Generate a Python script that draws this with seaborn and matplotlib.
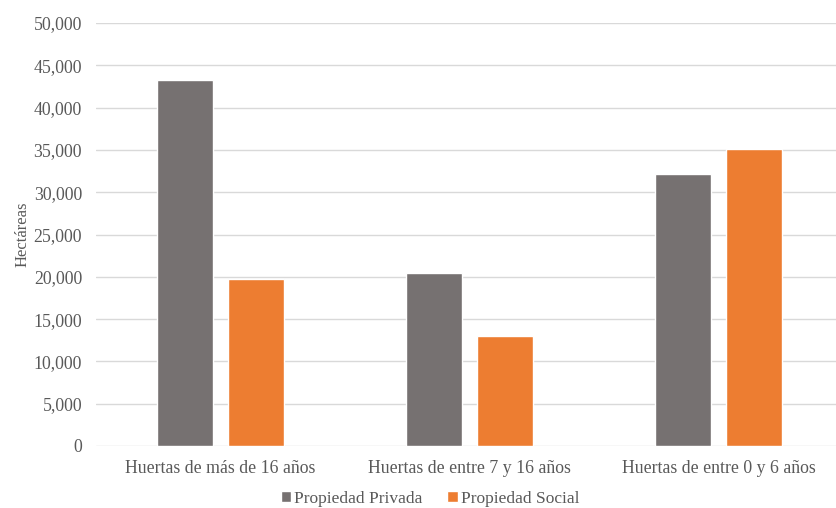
import matplotlib
matplotlib.use("Agg")
import matplotlib.pyplot as plt
from matplotlib.ticker import FuncFormatter, MultipleLocator
import seaborn as sns
import pandas as pd

categorias = ["Huertas de más de 16 años", "Huertas de entre 7 y 16 años", "Huertas de entre 0 y 6 años"]
propiedad_privada = [43300, 20400, 32200]
propiedad_social = [19700, 13000, 35100]
series = ["Propiedad Privada", "Propiedad Social"]
colores = ["#767171", "#ED7D31"]

df = pd.DataFrame({
    "categoria": categorias * 2,
    "hectareas": propiedad_privada + propiedad_social,
    "tipo": [series[0]] * len(categorias) + [series[1]] * len(categorias),
})

sns.set_theme(style="white")
plt.rcParams["font.family"] = ["Liberation Serif", "DejaVu Serif"]
texto = "#595959"

fig = plt.figure(figsize=(8.36, 5.08), dpi=100)
ax = fig.add_axes([96 / 836, 1 - 446 / 508, 740 / 836, (446 - 23) / 508])

sns.barplot(data=df, x="categoria", y="hectareas", hue="tipo", palette=colores,
            width=0.57, gap=0.21, saturation=1, ax=ax, legend=True)

ax.set_ylim(0, 50000)
ax.set_xlim(-0.5, 2.472)
ax.yaxis.set_major_locator(MultipleLocator(5000))
ax.yaxis.set_major_formatter(FuncFormatter(lambda v, p: f"{int(v):,}"))
ax.grid(axis="y", color="#D9D9D9", linewidth=1)
ax.set_axisbelow(True)
for s in ax.spines.values():
    s.set_visible(False)
ax.tick_params(axis="both", length=0, labelsize=12.8, colors=texto)
ax.tick_params(axis="y", pad=10)
ax.tick_params(axis="x", pad=10)
ax.set_xlabel("")
ax.set_ylabel("Hectáreas", fontsize=12, color=texto, labelpad=2)

handles, labels = ax.get_legend_handles_labels()
ax.legend_.remove()
fig.legend(handles, labels, loc="center", bbox_to_anchor=(430 / 836, 1 - 499 / 508),
           ncol=2, frameon=False, prop={"family": "Liberation Serif", "size": 12.5},
           handlelength=0.6, handleheight=0.6, handletextpad=0.2, columnspacing=1.4,
           labelcolor=texto)

fig.savefig("out.png", dpi=100)
